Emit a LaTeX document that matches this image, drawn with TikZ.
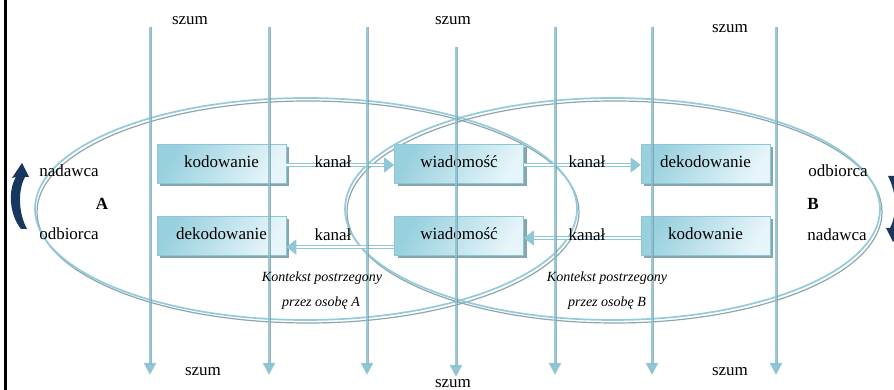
\documentclass[tikz,border=0pt]{standalone}
\usepackage{fontspec}
\setmainfont{Liberation Serif}
\usetikzlibrary{arrows.meta,shadows}
\definecolor{lineblue}{HTML}{88C0CF}
\definecolor{lineshadow}{HTML}{7396A0}
\definecolor{ellblue}{HTML}{93CBDA}
\definecolor{ellshadow}{HTML}{8FA6AD}
\definecolor{boxdark}{HTML}{98D0DE}
\definecolor{boxlight}{HTML}{E6F5F9}
\definecolor{boxedge}{HTML}{8DC7D6}
\definecolor{boxshadow}{HTML}{86A6AF}
\definecolor{arrowblue}{HTML}{8FC7D6}
\definecolor{navy}{HTML}{17375E}
\begin{document}
\begin{tikzpicture}[x=1pt,y=1pt,
  font=\fontsize{17}{20}\selectfont,
  stagebox/.style={minimum width=129pt, minimum height=39pt, inner sep=0pt,
    draw=boxedge, line width=0.6pt,
    left color=boxdark, right color=boxlight, shading angle=60,
    drop shadow={shadow xshift=3pt, shadow yshift=-3pt, fill=boxshadow, opacity=1},
    text height=11pt, text depth=3pt},
  dbl/.style={draw=arrowblue, double=white, double distance=2pt, line width=1.3pt,
    -{Triangle[width=15pt,length=10pt,fill=arrowblue]}},
  szumline/.style={draw=lineblue, line width=2.4pt, opacity=0.85,
    -{Triangle[width=12pt,length=12pt]}},
  ell/.style={draw=ellblue, line width=1.7pt,
    preaction={draw=ellshadow, line width=1.2pt, transform canvas={xshift=2pt,yshift=-3pt}}},
  lbl/.style={anchor=base, inner sep=0pt},
  ctx/.style={anchor=base, inner sep=0pt, font=\fontsize{14}{16}\selectfont\itshape}
]
\useasboundingbox (0,0) rectangle (894,390);
\clip (0,0) rectangle (894,390);
\fill[white] (0,0) rectangle (894,390);
\fill[black] (4,0) rectangle (7,390);

% ellipses
\draw[ell] (306,181) ellipse [x radius=271, y radius=111];
\draw[ell] (612.5,181) ellipse [x radius=267.5, y radius=111];

% boxes
\node[stagebox] (kodA)  at (221.5,226) {kodowanie};
\node[stagebox] (wiadT) at (459,226)   {wiadomość};
\node[stagebox] (dekB)  at (705.5,226) {dekodowanie};
\node[stagebox] (dekA)  at (221.5,154) {dekodowanie};
\node[stagebox] (wiadB) at (459,154)   {wiadomość};
\node[stagebox] (kodB)  at (705.5,154) {kodowanie};

% channel arrows
\draw[dbl] ([yshift=-1pt]kodA.east) -- ([yshift=-1pt]wiadT.west);
\draw[dbl] ([yshift=-1pt]wiadT.east) -- ([yshift=-1pt]dekB.west);
\draw[dbl] ([yshift=-11pt]wiadB.west) -- ([yshift=-11pt]dekA.east);
\draw[dbl] ([yshift=-2pt]kodB.west) -- ([yshift=-2pt]wiadB.east);

\node[lbl] (k1) at (333,222) {kanał};
\node[lbl] (k2) at (587,222) {kanał};
\node[lbl] (k3) at (333,149) {kanał};
\node[lbl] (k4) at (587,149) {kanał};

% noise arrows
\foreach \x in {150,269,367,555,652,776}{
  \draw[lineshadow, line width=1pt, opacity=0.7] (\x+1.6,363) -- (\x+1.6,26);
  \draw[szumline] (\x,363) -- (\x,15);
}
\draw[lineshadow, line width=1pt, opacity=0.7] (457.6,343) -- (457.6,24);
\draw[szumline] (456,343) -- (456,13);

\node[lbl] (s1) at (190,365) {szum};
\node[lbl] (s2) at (453,365) {szum};
\node[lbl] (s3) at (730,357) {szum};
\node[lbl] (s4) at (203,14) {szum};
\node[lbl] (s5) at (453,2.5) {szum};
\node[lbl] (s6) at (730,14) {szum};

% side labels
\node[lbl] (nA) at (69,213) {nadawca};
\node[lbl] (A)  at (102,180) {\textbf{A}};
\node[lbl] (oA) at (69,150) {odbiorca};
\node[lbl] (oB) at (838,213) {odbiorca};
\node[lbl] (B)  at (813,180) {\textbf{B}};
\node[lbl] (nB) at (837,149) {nadawca};

% context labels
\node[ctx] (cA1) at (322,108) {Kontekst postrzegony};
\node[ctx] (cA2) at (321,83)  {przez osobę A};
\node[ctx] (cB1) at (607,108) {Kontekst postrzegony};
\node[ctx] (cB2) at (607,83)  {przez osobę B};

% curved arrows at the sides
\fill[navy] (22,227) -- (29,213) -- (25,213) .. controls (18,200) and (18,178) .. (27,161)
  -- (21,161) .. controls (9,176) and (8,200) .. (16,213) -- (12,212) -- cycle;
\fill[navy, rotate around={180:(457.5,187.5)}] (22,227) -- (29,213) -- (25,213) .. controls (18,200) and (18,178) .. (27,161)
  -- (21,161) .. controls (9,176) and (8,200) .. (16,213) -- (12,212) -- cycle;
\end{tikzpicture}
\end{document}
